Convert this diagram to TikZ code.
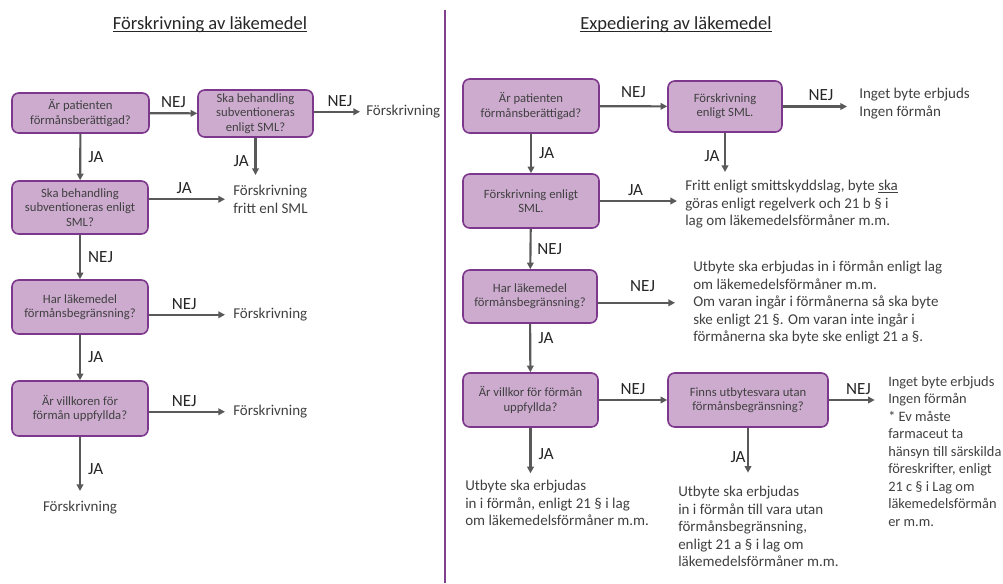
\documentclass[tikz,border=0pt]{standalone}
\usepackage{fontspec}
\setmainfont{Carlito}
\usetikzlibrary{arrows.meta, positioning}

\definecolor{rutlila}{RGB}{205,171,207}
\definecolor{ramlila}{RGB}{125,55,140}
\definecolor{delarlila}{RGB}{128,64,142}
\definecolor{pilgra}{RGB}{89,89,89}
\definecolor{textgra}{RGB}{64,64,64}
\definecolor{svargra}{RGB}{38,38,38}

\newcommand{\rubrikfont}{\fontsize{13.9}{16}\selectfont}
\newcommand{\rutfont}{\fontsize{9.5}{10.7}\selectfont}
\newcommand{\utfallfont}{\fontsize{11.25}{13.1}\selectfont}
\newcommand{\smalfont}{\fontsize{10.8}{13.1}\selectfont}
\newcommand{\svarfont}{\fontsize{12.8}{14}\selectfont}

\begin{document}
\begin{tikzpicture}[->, >={Triangle[length=5pt, width=5pt]}, x=0.75pt, y=-0.75pt,
    fraga/.style={rectangle, rounded corners=5pt, draw=ramlila, line width=1.2pt, fill=rutlila,
        text=textgra, font=\rutfont, align=center, minimum width=102pt, minimum height=40.5pt, inner sep=2pt},
    utfall/.style={anchor=north west, align=left, inner sep=0pt, text=textgra, font=\utfallfont},
    svar/.style={text=svargra, font=\svarfont},
    every edge/.append style={pilgra, line width=1.6pt}]

    \useasboundingbox (0,0) rectangle (1003,583);

    % Rubriker och delare
    \node[text=svargra, font=\rubrikfont, inner sep=0pt] (rubrik1) at (210,25) {Förskrivning av läkemedel};
    \node[text=svargra, font=\rubrikfont, inner sep=0pt] (rubrik2) at (676,25) {Expediering av läkemedel};
    \draw[-, svargra, line width=0.7pt] ([yshift=-1.5pt]rubrik1.base west) -- ([yshift=-1.5pt]rubrik1.base east);
    \draw[-, svargra, line width=0.7pt] ([yshift=-1.5pt]rubrik2.base west) -- ([yshift=-1.5pt]rubrik2.base east);
    \draw[-, delarlila, line width=1pt] (445,10) -- (445,583);

    % Fragor, forskrivning
    \node[fraga, minimum width=102.75pt, minimum height=30pt] (L1) at (80.5,113) {Är patienten\\förmånsberättigad?};
    \node[fraga, minimum width=86.25pt, minimum height=35.25pt] (L2) at (255.5,113.5) {Ska behandling\\subventioneras\\enligt SML?};
    \node[fraga, minimum height=39.75pt] (L3) at (80,207.5) {Ska behandling\\subventioneras enligt\\SML?};
    \node[fraga] (L4) at (80,307) {Har läkemedel\\förmånsbegränsning?};
    \node[fraga, minimum height=41.25pt] (L5) at (80,408.5) {Är villkoren för\\förmån uppfyllda?};

    % Utfall, forskrivning
    \node[utfall] (uL2) at (366,105) {Förskrivning};
    \node[utfall] (uL3) at (233,185) {Förskrivning\\fritt enl SML};
    \node[utfall] (uL4) at (233,308) {Förskrivning};
    \node[utfall] (uL5) at (233,405) {Förskrivning};
    \node[utfall, anchor=north] (uL6) at (80,501) {Förskrivning};

    % Fragor, expediering
    \node[fraga] (R1) at (531,106) {Är patienten\\förmånsberättigad?};
    \node[fraga, minimum width=85.5pt, minimum height=38.25pt] (R2) at (725,106.5) {Förskrivning\\enligt SML.};
    \node[fraga] (R3) at (531,201) {Förskrivning enligt\\SML.};
    \node[fraga, minimum width=100.5pt, minimum height=39.75pt] (R4) at (530,296.5) {Har läkemedel\\förmånsbegränsning?};
    \node[fraga, minimum width=101.25pt] (R5) at (530.5,400) {Är villkor för förmån\\uppfyllda?};
    \node[fraga, minimum width=120pt] (R6) at (748,400) {Finns utbytesvara utan\\förmånsbegränsning?};

    % Utfall, expediering
    \node[utfall] (uR2) at (859,88) {Inget byte erbjuds\\Ingen förmån};
    \node[utfall] (uR3) at (685,180) {Fritt enligt smittskyddslag, byte \underline{ska}\\göras enligt regelverk och 21 b § i\\lag om läkemedelsförmåner m.m.};
    \node[utfall] (uR4) at (693,261) {Utbyte ska erbjudas in i förmån enligt lag\\om läkemedelsförmåner m.m.\\Om varan ingår i förmånerna så ska byte\\ske enligt 21 §. Om varan inte ingår i\\förmånerna ska byte ske enligt 21 a §.};
    \node[utfall] (uR5) at (465,480) {Utbyte ska erbjudas\\in i förmån, enligt 21 § i lag\\om läkemedelsförmåner m.m.};
    \node[utfall] (uR6) at (678,486) {Utbyte ska erbjudas\\in i förmån till vara utan\\förmånsbegränsning,\\enligt 21 a § i lag om\\läkemedelsförmåner m.m.};
    \node[utfall, font=\smalfont] (uR7) at (888,376) {Inget byte erbjuds\\Ingen förmån\\* Ev måste\\farmaceut ta\\hänsyn till särskilda\\föreskrifter, enligt\\21 c § i Lag om\\läkemedelsförmån\\er m.m.};

    % Pilar, forskrivning
    \path   (L1) edge node[svar, above] {NEJ} (L2)
                 edge node[svar, right=2pt] {JA} (L3)
            (L2.east |- uL2.west) edge[shorten >=4.5pt] node[svar, above] {NEJ} (uL2.west)
            (L2) edge[shorten >=7.5pt] node[svar, left=1pt] {JA} (L2 |- uL3.north)
            (L3.east |- uL3.west) edge[shorten >=6pt] node[svar, above, pos=0.42] {JA} (uL3.west)
            (L3) edge node[svar, right=2pt] {NEJ} (L4)
            (L4.east |- uL4.west) edge[shorten >=6pt] node[svar, above, pos=0.42] {NEJ} (uL4.west)
            (L4) edge node[svar, right=2pt] {JA} (L5)
            (L5.east |- uL5.west) edge[shorten >=6pt] node[svar, above, pos=0.42] {NEJ} (uL5.west)
            (L5) edge[shorten >=7.5pt] node[svar, right=2pt] {JA} (uL6);

    % Pilar, expediering
    \path   (R1) edge node[svar, above=2pt] {NEJ} (R2)
                 edge node[svar, right=2pt] {JA} (R3)
            (R2) edge[shorten >=9pt] node[svar, above] {NEJ} (R2 -| uR2.west)
                 edge[shorten >=6pt] node[svar, left] {JA} (R2 |- uR3.north)
            (R3) edge[shorten >=6pt] node[svar, above, pos=0.42] {JA} (R3 -| uR3.west)
                 edge node[svar, right=1pt] {NEJ} (R4)
            (R4.east |- uR4.west) edge[shorten >=13.5pt] node[svar, above=4pt, pos=0.47] {NEJ} (uR4.west)
            (R4) edge node[svar, right=2pt, pos=0.3] {JA} (R5)
            (R5) edge node[svar, above] {NEJ} (R6)
                 edge[shorten >=5pt] node[svar, right=2pt] {JA} (R5 |- uR5.north)
            (R6) edge[shorten >=10pt] node[svar, above] {NEJ} (R6 -| uR7.west)
                 edge[shorten >=10pt] node[svar, left, inner xsep=1pt] {JA} (R6 |- uR6.north);

\end{tikzpicture}
\end{document}
